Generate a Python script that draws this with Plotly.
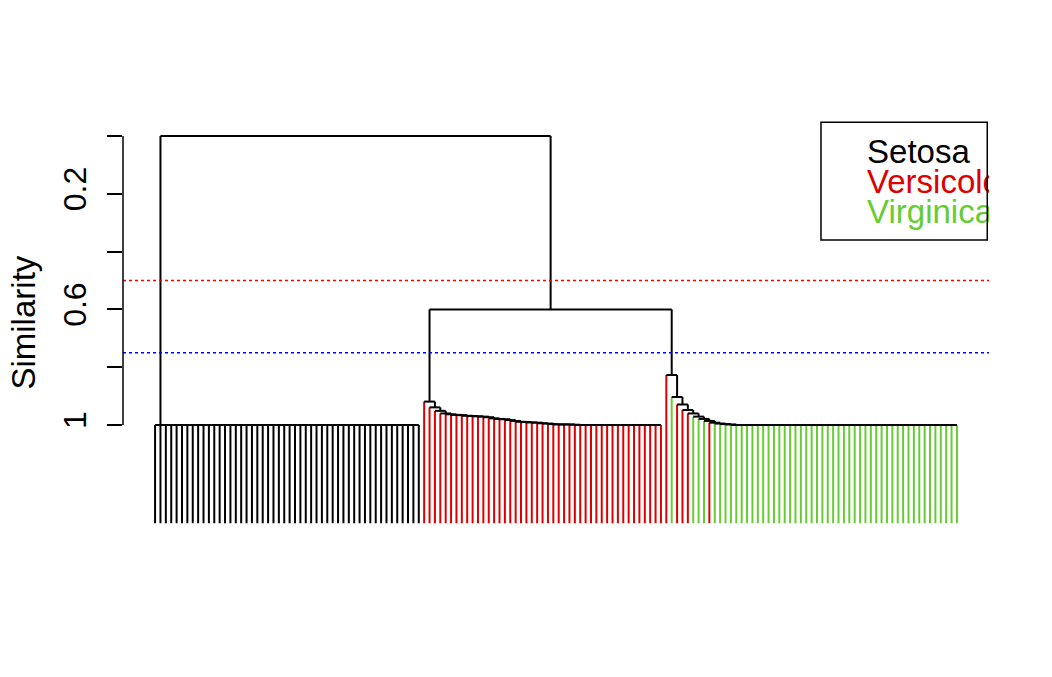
import plotly.graph_objects as go

# leaf order of the dendrogram (150 iris flowers) and their species
leaf_species = (['Setosa'] * 50 + ['Versicolor'] * 45 +
                ['Versicolor', 'Virginica', 'Versicolor', 'Versicolor', 'Versicolor',
                 'Virginica', 'Virginica', 'Virginica', 'Versicolor'] +
                ['Virginica'] * 46)

# merge similarities of the three chained sub-clusters (leaf k joins the rest)
setosa_sim = [1.0] * 49
versicolor_sim = [0.919, 0.939, 0.951, 0.960, 0.963, 0.965, 0.966, 0.968, 0.969, 0.970,
                  0.971, 0.973, 0.977, 0.979, 0.980, 0.983, 0.986, 0.989, 0.990, 0.991,
                  0.992, 0.994, 0.995, 0.997, 0.998, 0.998, 0.998, 0.999] + [1.0] * 16
virginica_sim = [0.827, 0.903, 0.929, 0.948, 0.960, 0.971, 0.979, 0.986, 0.992, 0.995,
                 0.997, 0.998] + [1.0] * 42
mid_sim = 0.6     # Versicolor + Virginica
root_sim = 0.0    # everything
leaf_end = 1.34   # where the leaf lines stop

cut_lines = [0.5, 0.75]
cut_colors = ['#ff0000', '#0000ff']

species = ['Setosa', 'Versicolor', 'Virginica']
species_colors = {'Setosa': '#000000', 'Versicolor': '#dd0000', 'Virginica': '#66cc33'}

# ---- build the segments --------------------------------------------------
black_x, black_y = [], []
leaf_x = {s: [] for s in species}
leaf_y = {s: [] for s in species}


def seg(xs, ys, x0, y0, x1, y1):
    xs += [x0, x1, None]
    ys += [y0, y1, None]


def leaf(i, h):
    s = leaf_species[i]
    seg(leaf_x[s], leaf_y[s], i + 1, h, i + 1, leaf_end)


def chain(first, sims):
    # leaves first..first+len(sims), nested to the right
    n = len(sims) + 1
    idx = list(range(first, first + n))
    x_node, h_node = idx[-1] + 1, None
    for k in range(n - 2, -1, -1):
        h = sims[k]
        leaf(idx[k], h)
        if h_node is None:
            leaf(idx[k + 1], h)
        else:
            seg(black_x, black_y, x_node, h, x_node, h_node)
        seg(black_x, black_y, idx[k] + 1, h, x_node, h)
        x_node, h_node = (idx[k] + 1 + x_node) / 2, h
    return x_node, h_node


def join(a, b, h):
    seg(black_x, black_y, a[0], h, a[0], a[1])
    seg(black_x, black_y, b[0], h, b[0], b[1])
    seg(black_x, black_y, a[0], h, b[0], h)
    return (a[0] + b[0]) / 2, h


setosa = chain(0, setosa_sim)
versi = chain(50, versicolor_sim)
virg = chain(95, virginica_sim)
mid = join(versi, virg, mid_sim)
join(setosa, mid, root_sim)

fig = go.Figure()
for s in species:
    fig.add_trace(go.Scatter(x=leaf_x[s], y=leaf_y[s], mode='lines',
                             line=dict(color=species_colors[s], width=2), hoverinfo='skip'))
fig.add_trace(go.Scatter(x=black_x, y=black_y, mode='lines',
                         line=dict(color='black', width=2), hoverinfo='skip'))

# legend text, clipped by the plot box like the original
legend_y = [0.065, 0.17, 0.272]
for s, yy in zip(species, legend_y):
    fig.add_trace(go.Scatter(x=[133.3], y=[yy], mode='text', text=[s], textposition='middle right',
                             textfont=dict(size=33, color=species_colors[s]), cliponaxis=True,
                             hoverinfo='skip'))

for yy, c in zip(cut_lines, cut_colors):
    fig.add_shape(type='line', xref='paper', x0=0, x1=1, y0=yy, y1=yy,
                  line=dict(color=c, width=1.5, dash='dot'))

# legend box
fig.add_shape(type='rect', xref='paper', x0=0.806, x1=0.998, y0=-0.048, y1=0.36,
              line=dict(color='black', width=1.5))
# y axis line (only between first and last tick)
fig.add_shape(type='line', xref='paper', x0=0, x1=0, y0=0, y1=1,
              line=dict(color='black', width=1.5))

fig.add_annotation(text='Similarity', xref='paper', yref='paper', x=-0.121, y=0.516,
                   xshift=-15, textangle=-90, showarrow=False, font=dict(size=33, color='black'))

fig.update_xaxes(range=[-4.96, 155.96], visible=False)
fig.update_yaxes(range=[1.391, -0.0519], showgrid=False, zeroline=False, showline=False,
                 tickvals=[0, 0.2, 0.4, 0.6, 0.8, 1.0], ticktext=['', '0.2', '', '0.6', '', '1'],
                 ticks='outside', ticklen=15, tickwidth=1.5, tickcolor='black',
                 tickangle=-90, tickfont=dict(size=32, color='black'), ticklabelstandoff=8)
fig.update_layout(width=1052, height=677, showlegend=False,
                  margin=dict(l=115, r=71, t=113, b=147),
                  plot_bgcolor='white', paper_bgcolor='white',
                  font=dict(family='Liberation Sans, Arial, sans-serif'))
fig.write_html('out.html')
